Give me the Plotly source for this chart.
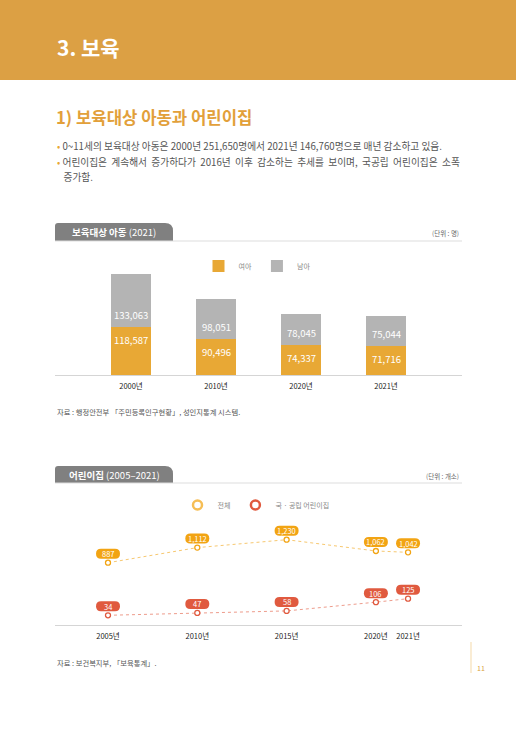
import plotly.graph_objects as go

W, H = 516, 729
FONT = 'Noto Sans CJK KR'

# chart 1: children eligible for childcare
years_kids = ['2000년', '2010년', '2020년', '2021년']
girls = [118587, 90496, 74337, 71716]
boys = [133063, 98051, 78045, 75044]

# chart 2: daycare centres
years_dc = [2005, 2010, 2015, 2020, 2021]
dc_total = [887, 1112, 1230, 1062, 1042]
dc_public = [34, 47, 58, 106, 125]

ORANGE_HEAD = '#DCA044'
ORANGE_BAR = '#E8A835'
GRAY_BAR = '#B4B4B4'
ORANGE_PT = '#F2A413'
RED_PT = '#E05A3F'


def py(px):
    # page pixel (from top) -> paper y
    return 1 - px / H


def pxx(px):
    return px / W


# the last step (2020 -> 2021) is drawn narrower than a 5-year step, as in the source
def slot_positions(years):
    pos = [0.0]
    for a, b in zip(years[:-1], years[1:]):
        pos.append(pos[-1] + (1.0 if b - a >= 5 else 0.36))
    return pos


dc_x = slot_positions(years_dc)

fig = go.Figure()

# bars
fig.add_trace(go.Bar(
    x=years_kids, y=girls, name='여아', marker=dict(color=ORANGE_BAR, line=dict(width=0)),
    width=0.46, xaxis='x', yaxis='y', legend='legend', hoverinfo='skip'
))
fig.add_trace(go.Bar(
    x=years_kids, y=boys, name='남아', marker=dict(color=GRAY_BAR, line=dict(width=0)),
    width=0.46, xaxis='x', yaxis='y', legend='legend', hoverinfo='skip'
))

# lines
fig.add_trace(go.Scatter(
    x=dc_x, y=dc_total, mode='lines+markers', showlegend=False,
    line=dict(color='#F7C870', width=1, dash='dot'),
    marker=dict(size=5, color='white', line=dict(color=ORANGE_PT, width=1.3)),
    xaxis='x2', yaxis='y2', hoverinfo='skip'
))
fig.add_trace(go.Scatter(
    x=dc_x, y=dc_public, mode='lines+markers', showlegend=False,
    line=dict(color='#EE9C8C', width=1, dash='dot'),
    marker=dict(size=5, color='white', line=dict(color=RED_PT, width=1.3)),
    xaxis='x2', yaxis='y3', hoverinfo='skip'
))
# legend-only entries (ring markers)
fig.add_trace(go.Scatter(
    x=[None], y=[None], mode='markers', name='전체',
    marker=dict(size=9, color='white', line=dict(color='#F6BE55', width=2.5)),
    xaxis='x2', yaxis='y2', legend='legend2'
))
fig.add_trace(go.Scatter(
    x=[None], y=[None], mode='markers', name='국 · 공립 어린이집',
    marker=dict(size=9, color='white', line=dict(color=RED_PT, width=2.5)),
    xaxis='x2', yaxis='y3', legend='legend2'
))

shapes = []
annotations = []

# bar value labels, either side of the girls/boys boundary
for cat, g, b in zip(years_kids, girls, boys):
    annotations.append(dict(x=cat, y=g, xref='x', yref='y', text=f'{g:,}', showarrow=False, yshift=-13,
                            font=dict(color='white', size=9.5, family=FONT)))
    annotations.append(dict(x=cat, y=g, xref='x', yref='y', text=f'{b:,}', showarrow=False, yshift=12,
                            font=dict(color='white', size=9.5, family=FONT)))

# value pills for the line chart
pill = 'M -7,4 L 7,4 Q 12,4 12,9 Q 12,14 7,14 L -7,14 Q -12,14 -12,9 Q -12,4 -7,4 Z'
for xs, vals, yref, col in [(dc_x, dc_total, 'y2', ORANGE_PT), (dc_x, dc_public, 'y3', RED_PT)]:
    for xv, v in zip(xs, vals):
        shapes.append(dict(type='path', xref='x2', yref=yref, xsizemode='pixel', ysizemode='pixel',
                           xanchor=xv, yanchor=v, path=pill, fillcolor=col, line=dict(width=0),
                           layer='above'))
        annotations.append(dict(x=xv, y=v, xref='x2', yref=yref, text=f'{v:,}', showarrow=False,
                                yshift=9, font=dict(color='white', size=7.5, family=FONT)))

# header band
shapes.append(dict(type='rect', xref='paper', yref='paper', x0=0, x1=1, y0=py(80), y1=1,
                   fillcolor=ORANGE_HEAD, line=dict(width=0), layer='below'))
annotations.append(dict(x=pxx(55), y=py(47), xref='paper', yref='paper', xanchor='left', yanchor='middle',
                        text='<b>3. 보육</b>', showarrow=False, font=dict(color='white', size=21, family=FONT)))
annotations.append(dict(x=pxx(54), y=py(117), xref='paper', yref='paper', xanchor='left', yanchor='middle',
                        text='<b>1) 보육대상 아동과 어린이집</b>', showarrow=False,
                        font=dict(color='#E2A03A', size=16.7, family=FONT)))

dot = '<span style="color:#E8A835">•</span> '
bullets = [
    (146, dot + '0~11세의 보육대상 아동은 2000년 251,650명에서 2021년 146,760명으로 매년 감소하고 있음.'),
    (162, dot + '어린이집은  계속해서  증가하다가  2016년  이후  감소하는  추세를  보이며,  국공립  어린이집은  소폭'),
    (177, '   증가함.'),
]
for ypx, t in bullets:
    annotations.append(dict(x=pxx(55), y=py(ypx), xref='paper', yref='paper', xanchor='left', yanchor='middle',
                            text=t, showarrow=False, font=dict(color='#555555', size=9.7, family=FONT)))


def tab(top, bottom, title, sub, unit):
    r1, r2 = 3, 8
    x0, x1 = pxx(55), pxx(173)
    y0, y1 = py(bottom), py(top)
    rx1, ry1 = r1 / W, r1 / H
    rx2, ry2 = r2 / W, r2 / H
    path = (f'M {x0},{y0} L {x0},{y1 - ry1} Q {x0},{y1} {x0 + rx1},{y1} '
            f'L {x1 - rx2},{y1} Q {x1},{y1} {x1},{y1 - ry2} L {x1},{y0} Z')
    shapes.append(dict(type='path', xref='paper', yref='paper', path=path,
                       fillcolor='#808080', line=dict(width=0)))
    shapes.append(dict(type='line', xref='paper', yref='paper', x0=pxx(55), x1=pxx(462),
                       y0=y0, y1=y0, line=dict(color='#DDDDDD', width=1)))
    annotations.append(dict(x=(x0 + x1) / 2, y=py((top + bottom) / 2 + 0.5), xref='paper', yref='paper',
                            xanchor='center', yanchor='middle', showarrow=False,
                            text=f'<b>{title}</b> {sub}', font=dict(color='white', size=9.5, family=FONT)))
    annotations.append(dict(x=pxx(461), y=py((top + bottom) / 2 + 1), xref='paper', yref='paper',
                            xanchor='right', yanchor='middle', showarrow=False, text=unit,
                            font=dict(color='#666666', size=6.5, family=FONT)))


tab(223, 241, '보육대상 아동', '(2021)', '(단위 : 명)')
tab(466, 483, '어린이집', '(2005–2021)', '(단위 : 개소)')

# sources
annotations.append(dict(x=pxx(55), y=py(412), xref='paper', yref='paper', xanchor='left', yanchor='middle',
                        showarrow=False, text='자료 : 행정안전부 「주민등록인구현황」, 성인지통계 시스템.',
                        font=dict(color='#555555', size=7.3, family=FONT)))
annotations.append(dict(x=pxx(55), y=py(663), xref='paper', yref='paper', xanchor='left', yanchor='middle',
                        showarrow=False, text='자료 : 보건복지부, 「보육통계」.',
                        font=dict(color='#555555', size=7.3, family=FONT)))

# page number
shapes.append(dict(type='line', xref='paper', yref='paper', x0=pxx(471), x1=pxx(471), y0=py(673), y1=py(642),
                   line=dict(color='#F6E0B8', width=1.2)))
annotations.append(dict(x=pxx(475), y=py(668), xref='paper', yref='paper', xanchor='left', yanchor='middle',
                        showarrow=False, text='11', font=dict(color='#D9A040', size=7, family=FONT)))

bar_step = 85.0
line_step = 89.3

fig.update_layout(
    width=W, height=H, margin=dict(l=0, r=0, t=0, b=0),
    paper_bgcolor='white', plot_bgcolor='rgba(0,0,0,0)',
    barmode='stack', bargap=0,
    font=dict(family=FONT, color='#333333'),
    shapes=shapes, annotations=annotations,
    xaxis=dict(domain=[pxx(55), pxx(462)], range=[(55 - 131) / bar_step, (462 - 131) / bar_step],
               showgrid=False, zeroline=False, showline=True, linecolor='#D5D5D5', linewidth=1.2,
               tickfont=dict(size=7.5, color='#222222', family=FONT), ticklabelstandoff=4,
               anchor='y', fixedrange=True),
    yaxis=dict(domain=[py(375), py(262)], range=[0, 281000], visible=False, anchor='x'),
    xaxis2=dict(domain=[pxx(55), pxx(462)], range=[(55 - 108) / line_step, (462 - 108) / line_step],
                tickmode='array', tickvals=dc_x, ticktext=[f'{y}년' for y in years_dc],
                showgrid=False, zeroline=False, showline=True, linecolor='#D5D5D5', linewidth=1.2,
                tickfont=dict(size=7.5, color='#222222', family=FONT), ticklabelstandoff=4,
                anchor='y2'),
    yaxis2=dict(domain=[py(625), py(520)], range=[-42, 1524], visible=False, anchor='x2'),
    yaxis3=dict(domain=[py(625), py(520)], range=[-19.2, 556], visible=False, overlaying='y2', anchor='x2'),
    legend=dict(orientation='h', x=pxx(257), xanchor='center', y=py(266), yanchor='middle',
                font=dict(size=7, color='#888888', family=FONT), itemwidth=30,
                bgcolor='rgba(0,0,0,0)', traceorder='normal'),
    legend2=dict(orientation='h', x=pxx(256), xanchor='center', y=py(505), yanchor='middle',
                 font=dict(size=7, color='#888888', family=FONT), itemwidth=30,
                 bgcolor='rgba(0,0,0,0)', traceorder='normal'),
)

fig.write_html('out.html', config={'displayModeBar': False},
               post_script="document.body.style.margin='0';")
